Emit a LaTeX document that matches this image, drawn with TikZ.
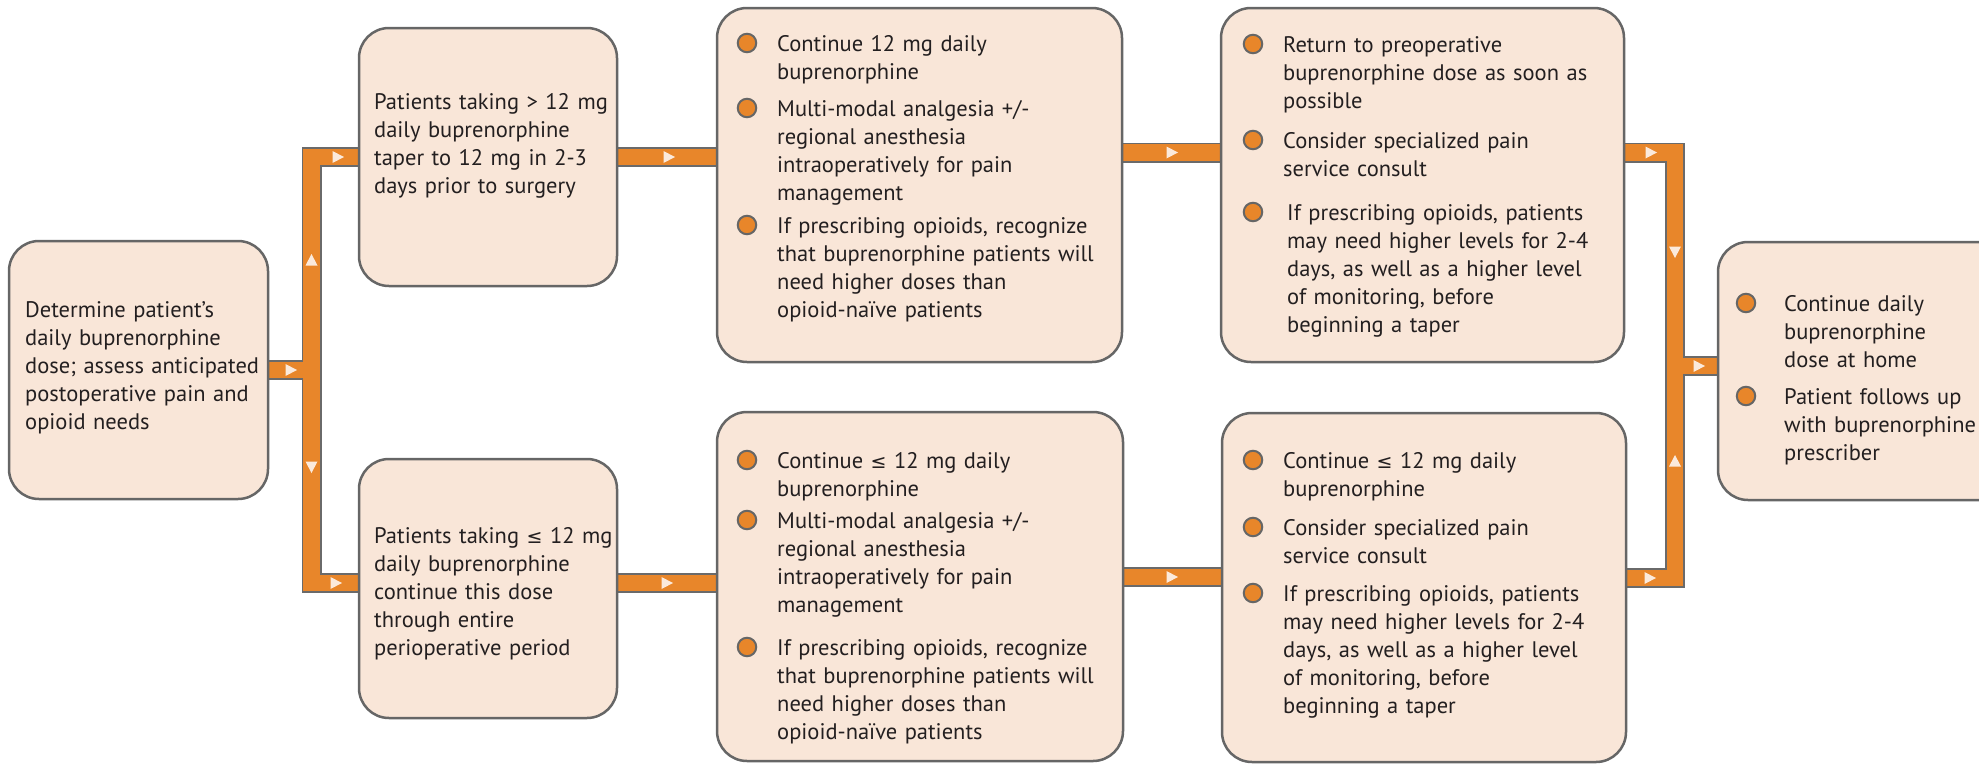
\documentclass[tikz,border=0pt]{standalone}
\usepackage{fontspec}
\setmainfont{PT Sans}
\newfontfamily\symfont{DejaVu Sans}
\pgfdeclarelayer{bg}
\pgfsetlayers{bg,main}
\definecolor{boxfill}{HTML}{F9E6D8}
\definecolor{boxline}{HTML}{666666}
\definecolor{orng}{HTML}{E8862A}
\definecolor{bandline}{HTML}{6A6A6A}
\definecolor{trifill}{HTML}{FBEADC}
\definecolor{txt}{HTML}{231F20}
\newcommand\lesym{{\symfont\fontsize{19}{28}\selectfont ≤}}
\newcommand\flowtri[3]{\fill[trimark, shift={(#1,#2)}, rotate=#3] (-5.5,-6) -- (6,0) -- (-5.5,6) -- cycle;}
\tikzset{
  flowbox/.style={draw=boxline, fill=boxfill, line width=2.5pt, rounded corners=30pt, inner sep=0pt},
  txtnode/.style={anchor=north west, inner sep=0pt, align=left, text width=380pt, text=txt,
                  font=\fontsize{22.5}{28}\selectfont, yshift=-1pt},
  bul/.style={circle, draw=boxline, fill=orng, line width=2pt, minimum size=18.5pt, inner sep=0pt},
  bandout/.style={draw=bandline, line width=20pt},
  bandin/.style={draw=orng, line width=16.5pt},
  trimark/.style={fill=trifill},
}
\begin{document}
\begin{tikzpicture}[x=1pt,y=-1pt]
\useasboundingbox (0,0) rectangle (1979,766);

% boxes
\node[flowbox, minimum width=259pt, minimum height=258pt] (b1)  at (138.5,370) {};
\node[flowbox, minimum width=258pt, minimum height=258pt] (b2t) at (488,157) {};
\node[flowbox, minimum width=258pt, minimum height=259pt] (b2b) at (488,588.5) {};
\node[flowbox, minimum width=405pt, minimum height=354pt] (b3t) at (919.5,185) {};
\node[flowbox, minimum width=406pt, minimum height=349pt] (b3b) at (920,586.5) {};
\node[flowbox, minimum width=403pt, minimum height=354pt] (b4t) at (1422.5,185) {};
\node[flowbox, minimum width=404pt, minimum height=349pt] (b4b) at (1424,587.5) {};
\node[flowbox, minimum width=292pt, minimum height=258pt] (b5)  at (1864,371) {};

% plain texts
\node[txtnode] (t1) at (25,296.4) {\strut Determine patient’s\\daily buprenorphine\\dose; assess anticipated\\postoperative pain and\\opioid needs};
\node[txtnode] (t2t) at (374,88.4) {\strut Patients taking > 12 mg\\daily buprenorphine\\taper to 12 mg in 2-3\\days prior to surgery};
\node[txtnode] (t2b) at (374,522.4) {\strut Patients taking \lesym{} 12 mg\\daily buprenorphine\\continue this dose\\through entire\\perioperative period};

% box 3 top
\node[bul] (u3a) at (747,43) {};
\node[txtnode] (t3a) at (777,30.4) {\strut Continue 12 mg daily\\buprenorphine};
\node[bul] (u3b) at (747,108) {};
\node[txtnode] (t3b) at (777,95.4) {\strut Multi-modal analgesia +/-\\regional anesthesia\\intraoperatively for pain\\management};
\node[bul] (u3c) at (747,225) {};
\node[txtnode] (t3c) at (777,212.4) {\strut If prescribing opioids, recognize\\that buprenorphine patients will\\need higher doses than\\opioid-naïve patients};

% box 3 bottom
\node[bul] (v3a) at (747,460) {};
\node[txtnode] (s3a) at (777,447.4) {\strut Continue \lesym{} 12 mg daily\\buprenorphine};
\node[bul] (v3b) at (747,520) {};
\node[txtnode] (s3b) at (777,507.4) {\strut Multi-modal analgesia +/-\\regional anesthesia\\intraoperatively for pain\\management};
\node[bul] (v3c) at (747,647) {};
\node[txtnode] (s3c) at (777,634.4) {\strut If prescribing opioids, recognize\\that buprenorphine patients will\\need higher doses than\\opioid-naïve patients};

% box 4 top
\node[bul] (u4a) at (1253,44) {};
\node[txtnode] (t4a) at (1283,31.4) {\strut Return to preoperative\\buprenorphine dose as soon as\\possible};
\node[bul] (u4b) at (1253,140) {};
\node[txtnode] (t4b) at (1283,127.4) {\strut Consider specialized pain\\service consult};
\node[bul] (u4c) at (1253,212) {};
\node[txtnode] (t4c) at (1287,199.4) {\strut If prescribing opioids, patients\\may need higher levels for 2-4\\days, as well as a higher level\\of monitoring, before\\beginning a taper};

% box 4 bottom
\node[bul] (v4a) at (1253,460) {};
\node[txtnode] (s4a) at (1283,447.4) {\strut Continue \lesym{} 12 mg daily\\buprenorphine};
\node[bul] (v4b) at (1253,527) {};
\node[txtnode] (s4b) at (1283,514.4) {\strut Consider specialized pain\\service consult};
\node[bul] (v4c) at (1253,593) {};
\node[txtnode] (s4c) at (1283,580.4) {\strut If prescribing opioids, patients\\may need higher levels for 2-4\\days, as well as a higher level\\of monitoring, before\\beginning a taper};

% box 5
\node[bul] (u5a) at (1746,303) {};
\node[txtnode] (t5a) at (1784,290.4) {\strut Continue daily\\buprenorphine\\dose at home};
\node[bul] (u5b) at (1746,396) {};
\node[txtnode] (t5b) at (1784,383.4) {\strut Patient follows up\\with buprenorphine\\prescriber};

% junction coordinates
\coordinate (lt) at (311.5,0);
\coordinate (rt) at (1675,0);
\coordinate (r2) at (0,152.5);
\coordinate (r3) at (0,583);
\coordinate (r4) at (0,577);
\coordinate (r5) at (0,578);
\coordinate (r6) at (0,366);

\begin{pgfonlayer}{bg}
\foreach \st in {bandout,bandin}{
  \draw[\st] (b1.east) -- (b1.east -| lt);
  \draw[\st] (b2t.west) -| (lt |- r3) -- (b2b.west |- r3);
  \draw[\st] (b2t.east) -- (b3t.west |- b2t.east);
  \draw[\st] (b2b.east |- r3) -- (b3b.west |- r3);
  \draw[\st] (b3t.east |- r2) -- (b4t.west |- r2);
  \draw[\st] (b3b.east |- r4) -- (b4b.west |- r4);
  \draw[\st] (b4t.east |- r2) -| (rt |- r5) -- (b4b.east |- r5);
  \draw[\st] (rt |- r6) -- (b5.west |- r6);
}
\flowtri{291}{370}{0}
\flowtri{311.5}{260}{90}
\flowtri{311.5}{467}{-90}
\flowtri{338}{157}{0}
\flowtri{336}{583}{0}
\flowtri{669}{157}{0}
\flowtri{667}{583}{0}
\flowtri{1172}{152.5}{0}
\flowtri{1172}{577}{0}
\flowtri{1651}{152.5}{0}
\flowtri{1675}{252}{-90}
\flowtri{1699}{366}{0}
\flowtri{1675}{461}{90}
\flowtri{1650}{578}{0}
\end{pgfonlayer}
\end{tikzpicture}
\end{document}
